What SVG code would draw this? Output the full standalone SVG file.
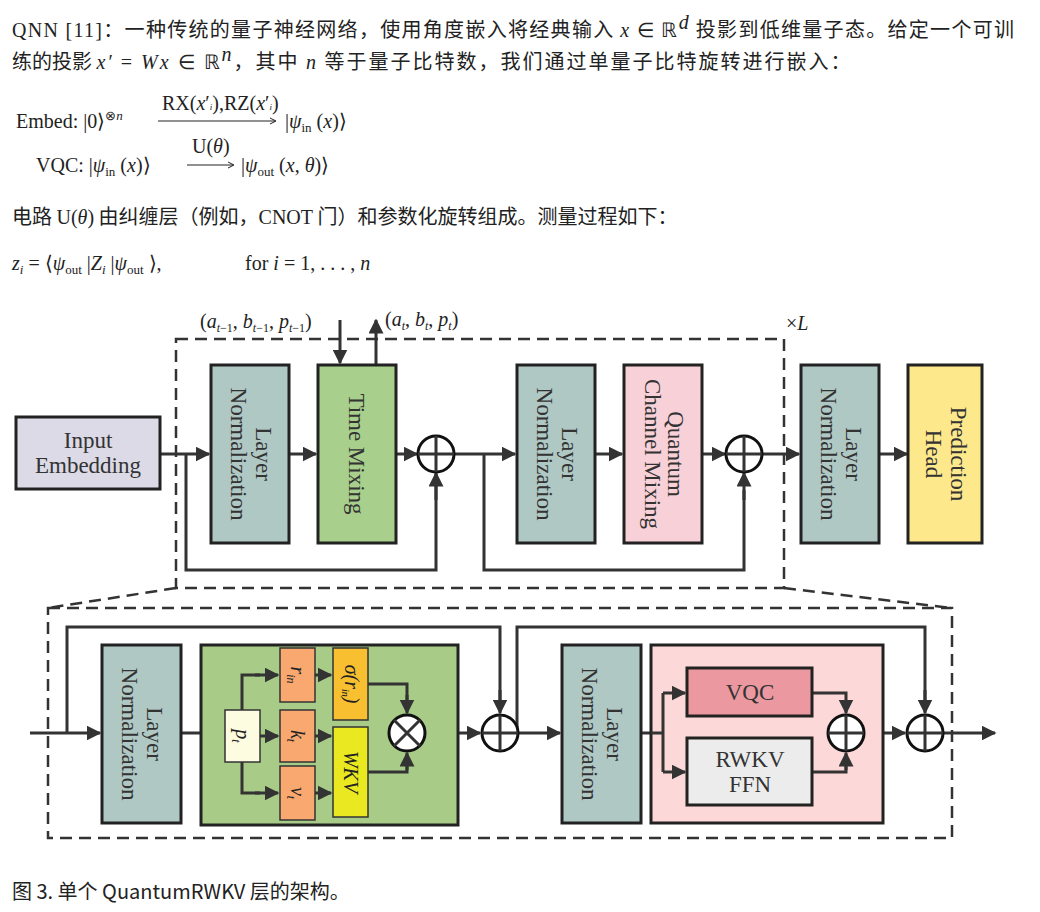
<svg xmlns="http://www.w3.org/2000/svg" width="1040" height="912" viewBox="0 0 1040 912">
<defs>
<marker id="ah" viewBox="0 0 10 10" refX="9" refY="5" markerWidth="5" markerHeight="5" orient="auto-start-reverse"><path d="M0,0L10,5L0,10z" fill="#333"/></marker>
<style>
.cn{font-family:"Noto Sans CJK SC","Noto Sans",sans-serif;font-size:20px;fill:#222}
.m{font-family:"Liberation Serif",serif;font-size:20px;fill:#222}
.i{font-style:italic}
.b{stroke:#222;stroke-width:3}
.l{fill:#333;font-family:"Liberation Serif",serif;font-size:23px;text-anchor:middle}
.w{fill:none;stroke:#333;stroke-width:3}
.a{fill:none;stroke:#333;stroke-width:3;marker-end:url(#ah)}
.d{fill:none;stroke:#333;stroke-width:2.5;stroke-dasharray:12 7}
.op{fill:#fff;stroke:#111;stroke-width:3}
</style>
</defs>
<text class="cn" x="12" y="37" letter-spacing="1.3"><tspan class="m">QNN [11]</tspan>：一种传统的量子神经网络，使用角度嵌入将经典输入 <tspan class="m i">x</tspan><tspan class="m"> ∈ ℝ</tspan><tspan class="m i" font-size="13" dy="-8">d</tspan><tspan dy="8"> 投影到低维量子态。给定一个可训</tspan></text>
<text class="cn" x="12" y="69" letter-spacing="2"><tspan letter-spacing="0">练的投影 </tspan><tspan class="m i">x′</tspan><tspan class="m"> = </tspan><tspan class="m i">Wx</tspan><tspan class="m"> ∈ ℝ</tspan><tspan class="m i" font-size="13" dy="-8">n</tspan><tspan dy="8">，其中 </tspan><tspan class="m i">n</tspan> 等于量子比特数，我们通过单量子比特旋转进行嵌入：</text>
<text class="m" x="16" y="128">Embed: |0⟩<tspan font-size="13" dy="-8">⊗<tspan class="i">n</tspan></tspan></text>
<text class="m" x="162" y="110" font-size="13">RX(<tspan class="i">x</tspan>′<tspan font-size="9" class="i">i</tspan>),RZ(<tspan class="i">x</tspan>′<tspan font-size="9" class="i">i</tspan>)</text>
<path d="M158,121H275" stroke="#222" stroke-width="1"/><path d="M270,118L276,121L270,124" fill="none" stroke="#222"/>
<text class="m" x="285" y="128">|<tspan class="i">ψ</tspan><tspan font-size="13" dy="4">in</tspan><tspan dy="-4"> (</tspan><tspan class="i">x</tspan>)⟩</text>
<text class="m" x="36" y="172">VQC: |<tspan class="i">ψ</tspan><tspan font-size="13" dy="4">in</tspan><tspan dy="-4"> (</tspan><tspan class="i">x</tspan>)⟩</text>
<text class="m" x="192" y="153" font-size="13">U(<tspan class="i">θ</tspan>)</text>
<path d="M187,165H233" stroke="#222" stroke-width="1"/><path d="M228,162L234,165L228,168" fill="none" stroke="#222"/>
<text class="m" x="241" y="172">|<tspan class="i">ψ</tspan><tspan font-size="13" dy="4">out</tspan><tspan dy="-4"> (</tspan><tspan class="i">x</tspan>, <tspan class="i">θ</tspan>)⟩</text>
<text class="cn" x="12" y="224">电路 <tspan class="m">U(<tspan class="i">θ</tspan>)</tspan> 由纠缠层（例如，<tspan class="m">CNOT</tspan> 门）和参数化旋转组成。测量过程如下：</text>
<text class="m" x="12" y="270"><tspan class="i">z</tspan><tspan font-size="13" class="i" dy="4">i</tspan><tspan dy="-4"> = ⟨</tspan><tspan class="i">ψ</tspan><tspan font-size="13" dy="4">out</tspan><tspan dy="-4"> |</tspan><tspan class="i">Z</tspan><tspan font-size="13" class="i" dy="4">i</tspan><tspan dy="-4"> |</tspan><tspan class="i">ψ</tspan><tspan font-size="13" dy="4">out</tspan><tspan dy="-4"> ⟩,</tspan></text>
<text class="m" x="245" y="270">for <tspan class="i">i</tspan> = 1, . . . , <tspan class="i">n</tspan></text>

<g id="connectors">
<rect class="d" x="176" y="339" width="608" height="249"/>
<path class="d" d="M176,588L48,608M784,588L952,608"/>
<rect class="d" x="48" y="608" width="904" height="230"/>
<path class="a" d="M160,454H209"/>
<path class="a" d="M289,454H316"/>
<path class="a" d="M396,454H417"/>
<path class="w" d="M186,454V570H436V474"/><path class="a" d="M436,500V473"/>
<path class="a" d="M453,454H515"/>
<path class="a" d="M595,454H622"/>
<path class="a" d="M702,454H725"/>
<path class="w" d="M484,454V570H744V490"/><path class="a" d="M744,500V473"/>
<path class="a" d="M762,454H799"/>
<path class="a" d="M880,454H907"/>
<path class="a" d="M340,320V363"/>
<path class="a" d="M376,365V320"/>
<path class="a" d="M30,733H100"/>
<path class="w" d="M67,733V627H500V700"/><path class="a" d="M500,690V713"/>
<path class="a" d="M181,733H223"/>
<path class="a" d="M425,733H480"/>
<path class="w" d="M517,733V627H925V700"/><path class="a" d="M925,690V713"/>
<path class="a" d="M518,733H560"/>
<path class="w" d="M641,733H663"/>
<path class="a" d="M864,733H905"/>
<path class="a" d="M943,733H995"/>
</g>
<text class="m" x="200" y="328" font-size="19">(<tspan class="i">a</tspan><tspan font-size="12" dy="4"><tspan class="i">t</tspan>−1</tspan><tspan dy="-4">, </tspan><tspan class="i">b</tspan><tspan font-size="12" dy="4"><tspan class="i">t</tspan>−1</tspan><tspan dy="-4">, </tspan><tspan class="i">p</tspan><tspan font-size="12" dy="4"><tspan class="i">t</tspan>−1</tspan><tspan dy="-4">)</tspan></text>
<text class="m" x="385" y="326" font-size="19">(<tspan class="i">a</tspan><tspan font-size="12" class="i" dy="4">t</tspan><tspan dy="-4">, </tspan><tspan class="i">b</tspan><tspan font-size="12" class="i" dy="4">t</tspan><tspan dy="-4">, </tspan><tspan class="i">p</tspan><tspan font-size="12" class="i" dy="4">t</tspan><tspan dy="-4">)</tspan></text>
<text class="m" x="786" y="330" font-size="24">×<tspan class="i">L</tspan></text>

<g id="input"><rect class="b" x="16" y="417" width="144" height="72" fill="#dcdae6"/><text class="l" x="88" y="448" font-size="21">Input</text><text class="l" x="88" y="473" font-size="21">Embedding</text></g>
<g id="ln1"><rect class="b" x="211" y="365" width="78" height="178" fill="#b0c8c4"/><text class="l" transform="translate(250,454) rotate(90)"><tspan x="0" y="-6">Layer</tspan><tspan x="0" y="19">Normalization</tspan></text></g>
<g id="tm"><rect class="b" x="318" y="365" width="78" height="178" fill="#a8d08c"/><text class="l" transform="translate(357,454) rotate(90)" y="8" font-size="25">Time Mixing</text></g>
<g id="add1"><circle class="op" cx="436" cy="454" r="18"/><path class="w" stroke="#111" d="M418,454H454M436,436V472"/></g>
<g id="ln2"><rect class="b" x="517" y="365" width="78" height="178" fill="#b0c8c4"/><text class="l" transform="translate(556,454) rotate(90)"><tspan x="0" y="-6">Layer</tspan><tspan x="0" y="19">Normalization</tspan></text></g>
<g id="qcm"><rect class="b" x="624" y="365" width="78" height="178" fill="#f8d0d8"/><text class="l" font-size="20" transform="translate(663,454) rotate(90)"><tspan x="0" y="-5">Quantum</tspan><tspan x="0" y="18">Channel Mixing</tspan></text></g>
<g id="add2"><circle class="op" cx="744" cy="454" r="18"/><path class="w" stroke="#111" d="M726,454H762M744,436V472"/></g>
<g id="ln3"><rect class="b" x="801" y="365" width="78" height="178" fill="#b0c8c4"/><text class="l" transform="translate(840,454) rotate(90)"><tspan x="0" y="-6">Layer</tspan><tspan x="0" y="19">Normalization</tspan></text></g>
<g id="head"><rect class="b" x="908" y="365" width="74" height="178" fill="#fde88c"/><text class="l" font-size="25" transform="translate(945,454) rotate(90)"><tspan x="0" y="-6">Prediction</tspan><tspan x="0" y="19">Head</tspan></text></g>

<g id="bln1"><rect class="b" x="102" y="645" width="79" height="178" fill="#b0c8c4"/><text class="l" transform="translate(141,734) rotate(90)"><tspan x="0" y="-6">Layer</tspan><tspan x="0" y="19">Normalization</tspan></text></g>
<g id="tmbox"><rect class="b" x="201" y="645" width="257" height="180" fill="#a8cc88"/></g>
<g id="cmbox"><rect class="b" x="651" y="645" width="232" height="178" fill="#fdd8d8"/></g>
<g id="connectors-inner">
<path class="a" d="M260,736H278"/>
<path class="w" d="M242,710V675H260"/><path class="a" d="M255,675H278"/>
<path class="w" d="M242,762V793H260"/><path class="a" d="M255,793H278"/>
<path class="a" d="M315,675H331"/>
<path class="a" d="M315,736H331"/>
<path class="a" d="M315,793H331"/>
<path class="w" d="M368,684H407V700"/><path class="a" d="M407,695V713"/>
<path class="w" d="M368,772H407V760"/><path class="a" d="M407,770V753"/>
<path class="w" d="M651,733H663V693M663,733V772"/>
<path class="a" d="M663,693H685"/><path class="a" d="M663,772H685"/>
<path class="w" d="M812,693H846V705"/><path class="a" d="M846,700V713"/>
<path class="w" d="M812,772H846V760"/><path class="a" d="M846,770V753"/>
</g>
<g id="pt"><rect x="225" y="710" width="35" height="52" fill="#fdfbe0" stroke="#333" stroke-width="1.5"/><text class="m i" transform="translate(242,736) rotate(90)" text-anchor="middle" y="6" font-size="19">p<tspan font-size="12" dy="4">t</tspan></text></g>
<g id="rin"><rect x="280" y="648" width="35" height="54" fill="#f9a870" stroke="#333" stroke-width="1.5"/><text class="m i" transform="translate(297,675) rotate(90)" text-anchor="middle" y="6" font-size="18">r<tspan font-size="12" dy="4">in</tspan></text></g>
<g id="kt"><rect x="280" y="710" width="35" height="52" fill="#f9a870" stroke="#333" stroke-width="1.5"/><text class="m i" transform="translate(297,736) rotate(90)" text-anchor="middle" y="6" font-size="18">k<tspan font-size="12" dy="4">t</tspan></text></g>
<g id="vt"><rect x="280" y="766" width="35" height="54" fill="#f9a870" stroke="#333" stroke-width="1.5"/><text class="m i" transform="translate(297,793) rotate(90)" text-anchor="middle" y="6" font-size="18">v<tspan font-size="12" dy="4">t</tspan></text></g>
<g id="sig"><rect x="333" y="648" width="35" height="72" fill="#f8c030" stroke="#333" stroke-width="1.5"/><text class="m i" transform="translate(350,684) rotate(90)" text-anchor="middle" y="5" font-size="15">σ(r<tspan font-size="10" dy="3">in</tspan><tspan dy="-3">)</tspan></text></g>
<g id="wkv"><rect x="333" y="727" width="35" height="90" fill="#eae820" stroke="#333" stroke-width="1.5"/><text class="m i" transform="translate(350,772) rotate(90)" text-anchor="middle" y="6" font-size="18">WKV</text></g>
<g id="mul"><circle class="op" cx="407" cy="733" r="18"/><path class="w" stroke="#111" d="M394,720L420,746M420,720L394,746"/></g>
<g id="add3"><circle class="op" cx="500" cy="733" r="18"/><path class="w" stroke="#111" d="M482,733H518M500,715V751"/></g>
<g id="bln2"><rect class="b" x="562" y="645" width="79" height="178" fill="#b0c8c4"/><text class="l" transform="translate(601,734) rotate(90)"><tspan x="0" y="-6">Layer</tspan><tspan x="0" y="19">Normalization</tspan></text></g>
<g id="vqc"><rect class="b" x="687" y="668" width="125" height="48" fill="#ec98a0"/><text class="l" x="750" y="700" font-size="21">VQC</text></g>
<g id="ffn"><rect class="b" x="687" y="738" width="125" height="67" fill="#ececec"/><text class="l" x="750" y="767" font-size="21">RWKV</text><text class="l" x="750" y="792" font-size="21">FFN</text></g>
<g id="add4"><circle class="op" cx="846" cy="733" r="18"/><path class="w" stroke="#111" d="M828,733H864M846,715V751"/></g>
<g id="add5"><circle class="op" cx="925" cy="733" r="18"/><path class="w" stroke="#111" d="M907,733H943M925,715V751"/></g>
<text class="cn" x="12" y="899" font-size="18">图 3. 单个 QuantumRWKV 层的架构。</text>
</svg>
